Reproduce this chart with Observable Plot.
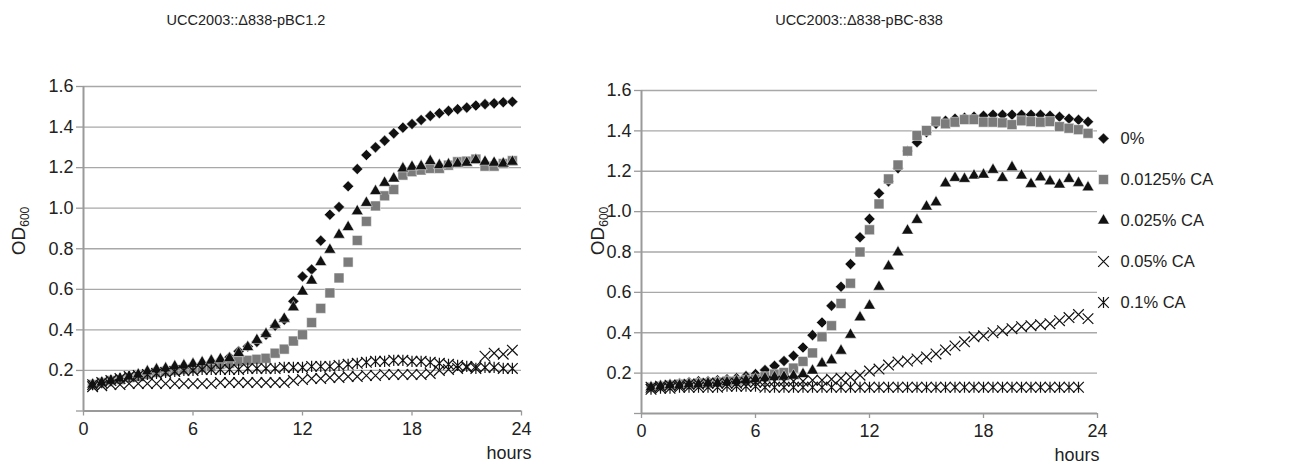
<!DOCTYPE html>
<html>
<head>
<meta charset="utf-8">
<script src="https://cdn.jsdelivr.net/npm/d3@7"></script>
<script src="https://cdn.jsdelivr.net/npm/@observablehq/plot@0.6"></script>
<style>
  html, body { margin: 0; padding: 0; background: #fff; }
  #wrap { position: relative; width: 1299px; height: 465px; overflow: hidden; background: #fff;
          font-family: "Liberation Sans", Arial, sans-serif; color: #222; }
  .panel { position: absolute; top: 0; }
  .title { position: absolute; font-size: 14.5px; transform: translate(-50%, -50%); white-space: nowrap; }
  .ylab { position: absolute; font-size: 19px; transform: translate(-50%, -50%) rotate(-90deg); white-space: nowrap; }
  .ylab sub { font-size: 12px; vertical-align: -4px; line-height: 0; }
</style>
</head>
<body>
<div id="wrap">
  <div id="left" class="panel" style="left:0px"></div>
  <div id="right" class="panel" style="left:560px"></div>
  <div id="legend" class="panel" style="left:1090px; top:110px"></div>
  <div class="title" style="left:246px; top:20px">UCC2003::Δ838-pBC1.2</div>
  <div class="title" style="left:859px; top:20px">UCC2003::Δ838-pBC-838</div>
  <div class="ylab" style="left:19px; top:231px">OD<sub>600</sub></div>
  <div class="ylab" style="left:598px; top:231px">OD<sub>600</sub></div>
</div>
<script>
// ---- data ----
const hours = [0.5,1,1.5,2,2.5,3,3.5,4,4.5,5,5.5,6,6.5,7,7.5,8,8.5,9,9.5,10,10.5,11,11.5,12,12.5,13,13.5,14,14.5,15,15.5,16,16.5,17,17.5,18,18.5,19,19.5,20,20.5,21,21.5,22,22.5,23,23.5];
const seriesNames = ["0%", "0.0125% CA", "0.025% CA", "0.05% CA", "0.1% CA"];
const xTicks = [0, 6, 12, 18, 24];
const yTicks = [0, 0.2, 0.4, 0.6, 0.8, 1.0, 1.2, 1.4, 1.6];

// UCC2003::Δ838-pBC1.2
const left0 = [0.13,0.14,0.15,0.16,0.165,0.175,0.185,0.195,0.2,0.21, 0.215,0.22,0.23,0.24,0.25,0.265,0.294,0.318,0.341,0.376, 0.42,0.45,0.541,0.663,0.698,0.84,0.968,1.006,1.108,1.193, 1.262,1.30,1.333,1.369,1.397,1.415,1.435,1.455,1.468,1.48, 1.488,1.496,1.506,1.513,1.517,1.522,1.525];
const left0125 = [0.13,0.14,0.15,0.155,0.165,0.17,0.18,0.19,0.195,0.2, 0.205,0.21,0.215,0.22,0.23,0.235,0.245,0.25,0.255,0.26, 0.285,0.305,0.345,0.376,0.436,0.506,0.582,0.656,0.734,0.841, 0.935,1.011,1.061,1.092,1.163,1.18,1.188,1.196,1.196,1.212, 1.229,1.232,1.242,1.207,1.207,1.22,1.234];
const left025 = [0.13,0.14,0.15,0.16,0.17,0.18,0.195,0.205,0.21,0.22, 0.225,0.232,0.24,0.248,0.255,0.26,0.285,0.315,0.35,0.38, 0.425,0.455,0.511,0.589,0.643,0.734,0.795,0.869,0.907,0.985, 1.026,1.084,1.125,1.146,1.196,1.204,1.207,1.232,1.212,1.216, 1.22,1.224,1.237,1.229,1.224,1.22,1.229];
const left05 = [0.12,0.125,0.13,0.13,0.135,0.135,0.135,0.135,0.135,0.135, 0.135,0.135,0.135,0.135,0.14,0.14,0.14,0.14,0.14,0.14, 0.14,0.14,0.15,0.155,0.16,0.16,0.165,0.165,0.17,0.17, 0.175,0.175,0.18,0.18,0.18,0.18,0.18,0.185,0.2,0.205, 0.21,0.215,0.22,0.27,0.285,0.28,0.3];
const left1 = [0.13,0.14,0.15,0.16,0.17,0.175,0.18,0.185,0.19,0.195, 0.2,0.2,0.205,0.205,0.205,0.205,0.205,0.21,0.21,0.21, 0.21,0.215,0.215,0.215,0.22,0.22,0.22,0.225,0.23,0.235, 0.24,0.245,0.245,0.25,0.25,0.245,0.245,0.24,0.235,0.23, 0.225,0.22,0.21,0.215,0.215,0.21,0.21];

// UCC2003::Δ838-pBC-838
const right0 = [0.13,0.14,0.145,0.15,0.155,0.16,0.16,0.165,0.17,0.175, 0.185,0.195,0.215,0.236,0.26,0.286,0.327,0.388,0.451,0.534, 0.628,0.74,0.873,0.964,1.091,1.15,1.215,1.30,1.344,1.393, 1.435,1.45,1.46,1.465,1.47,1.475,1.48,1.48,1.48,1.48, 1.48,1.48,1.475,1.47,1.46,1.455,1.445];
const right0125 = [0.13,0.135,0.14,0.145,0.145,0.15,0.15,0.155,0.16,0.16, 0.165,0.17,0.182,0.195,0.203,0.225,0.258,0.30,0.38,0.435, 0.545,0.645,0.80,0.91,1.038,1.162,1.231,1.30,1.377,1.402, 1.448,1.435,1.443,1.456,1.456,1.443,1.443,1.44,1.431,1.45, 1.446,1.443,1.446,1.421,1.413,1.406,1.388];
const right025 = [0.13,0.135,0.14,0.14,0.145,0.145,0.15,0.15,0.155,0.16, 0.165,0.17,0.175,0.18,0.182,0.187,0.195,0.212,0.248,0.264, 0.311,0.39,0.476,0.534,0.628,0.729,0.798,0.906,0.959,1.025, 1.046,1.14,1.167,1.162,1.179,1.183,1.207,1.167,1.22,1.179, 1.137,1.17,1.15,1.134,1.162,1.142,1.12];
const right05 = [0.13,0.135,0.14,0.14,0.145,0.145,0.15,0.15,0.15,0.15, 0.155,0.155,0.155,0.16,0.16,0.16,0.16,0.165,0.165,0.17, 0.175,0.18,0.19,0.21,0.22,0.24,0.255,0.26,0.27,0.28, 0.295,0.315,0.335,0.355,0.38,0.385,0.40,0.41,0.42,0.43, 0.435,0.44,0.445,0.46,0.475,0.49,0.47];
const right1 = [0.12,0.125,0.125,0.13,0.13,0.13,0.13,0.13,0.135,0.135, 0.135,0.135,0.13,0.13,0.13,0.13,0.13,0.13,0.13,0.13, 0.13,0.13,0.13,0.13,0.13,0.13,0.13,0.13,0.13,0.13, 0.13,0.13,0.13,0.13,0.13,0.13,0.13,0.13,0.13,0.13, 0.13,0.13,0.13,0.13,0.13,0.13,null];

// ---- styling ----
const asterisk = {
  draw(ctx, size) {
    const r = Math.sqrt(size - Math.min(size / 6, 1.7)) * 0.6189;
    ctx.moveTo(-r, -r); ctx.lineTo(r, r);
    ctx.moveTo(-r, r); ctx.lineTo(r, -r);
    ctx.moveTo(0, -r * 1.05); ctx.lineTo(0, r * 1.05);
  }
};
const styles = [
  {symbol: "diamond2", r: 5.0, fill: "#111", stroke: "#fff", strokeWidth: 0.5},
  {symbol: "square", r: 5.6, fill: "#7b7b7b", stroke: "#fff", strokeWidth: 0.5},
  {symbol: "triangle", r: 4.4, fill: "#111", stroke: "#fff", strokeWidth: 0.5},
  {symbol: "times", r: 4.9, fill: "none", stroke: "#111", strokeWidth: 1.2},
  {symbol: asterisk, r: 4.9, fill: "none", stroke: "#111", strokeWidth: 1.2}
];
const FONT = "Liberation Sans, Arial, sans-serif";
const AXIS = "#9a9a9a";

function buildRows(arrays) {
  const rows = [];
  hours.forEach((h, i) => arrays.forEach((arr, k) => {
    if (arr[i] != null) rows.push({hours: h, od: arr[i], series: seriesNames[k]});
  }));
  return rows;
}

function panel(arrays, m) {
  const rows = buildRows(arrays);
  return Plot.plot({
    width: m.width, height: 465,
    marginLeft: m.left, marginRight: m.right, marginTop: m.top, marginBottom: m.bottom,
    style: {fontFamily: FONT, color: "#222", background: "transparent", overflow: "visible"},
    x: {domain: [0, 24], axis: null},
    y: {domain: [0, 1.6], axis: null},
    marks: [
      Plot.gridY(yTicks.slice(1), {stroke: "#a8a8a8", strokeOpacity: 1, strokeWidth: 1.3}),
      Plot.axisY(yTicks, {tickSize: 7, tickPadding: 3, stroke: AXIS, strokeWidth: 1.3, fill: "#222",
        fontSize: 18, tickFormat: d => d === 0 ? "" : d.toFixed(1), label: null}),
      Plot.axisX(xTicks, {tickSize: 5, tickPadding: 6, stroke: AXIS, strokeWidth: 1.3, fill: "#222",
        fontSize: 18, tickFormat: d => String(d), label: null}),
      Plot.ruleX([0], {stroke: AXIS, strokeWidth: 2}),
      Plot.ruleY([0], {stroke: AXIS, strokeWidth: 2}),
      Plot.text(["hours"], {text: d => d, frameAnchor: "bottom-right", textAnchor: "end",
        lineAnchor: "middle", dx: m.hoursDx, dy: 42, fontSize: 18, fill: "#222"}),
      ...seriesNames.map((s, k) => Plot.dot(rows, {
        filter: d => d.series === s, x: "hours", y: "od", ...styles[k]
      }))
    ]
  });
}

document.getElementById("left").append(panel([left0, left0125, left025, left05, left1],
  {width: 540, left: 83, right: 19, top: 86, bottom: 54.5, hoursDx: 10}));
document.getElementById("right").append(panel([right0, right0125, right025, right05, right1],
  {width: 560, left: 81, right: 23, top: 90, bottom: 52, hoursDx: 2}));

const legend = Plot.plot({
  width: 209, height: 220,
  marginLeft: 0, marginRight: 0, marginTop: 28, marginBottom: 28,
  style: {fontFamily: FONT, color: "#222", background: "transparent", overflow: "visible"},
  y: {type: "point", domain: seriesNames, padding: 0, axis: null},
  marks: [
    ...seriesNames.map((s, k) => Plot.dot([s], {y: d => d, frameAnchor: "left", dx: 13, ...styles[k]})),
    Plot.text(seriesNames, {y: d => d, text: d => d, frameAnchor: "left", dx: 30, textAnchor: "start",
      fontSize: 16.5, fill: "#222"})
  ]
});
document.getElementById("legend").append(legend);
</script>
</body>
</html>
